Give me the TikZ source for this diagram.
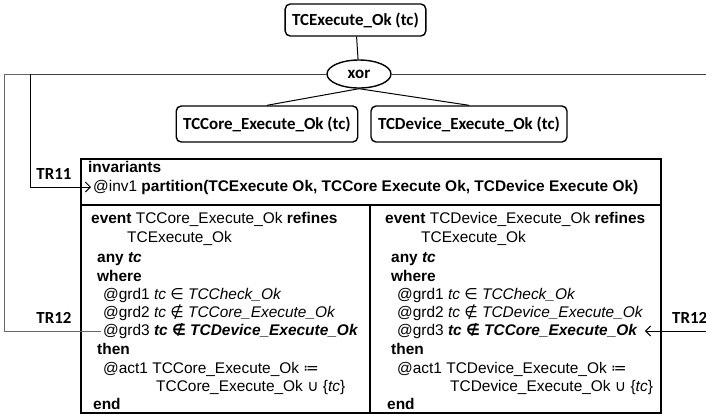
\documentclass[tikz,border=0pt]{standalone}
\usepackage{fontspec}
\usepackage{amsmath}
\usepackage{amssymb}
\usepackage{mathtools}
\setmainfont{Liberation Sans}
\newfontfamily\boxfont{Carlito}
\newfontfamily\symfont{DejaVu Sans}
\usetikzlibrary{shapes.geometric,arrows.meta}

\begin{document}
\begin{tikzpicture}[x=1bp, y=-1bp,
  >={Straight Barb[length=5bp,width=10bp]},
  evbox/.style={draw, line width=1.4bp, rounded corners=5bp, minimum height=32bp, inner xsep=7bp,
    font=\boxfont\bfseries\fontsize{17}{20}\selectfont},
  xorbox/.style={draw, ellipse, line width=1.4bp, minimum width=64bp, minimum height=28bp,
    font=\boxfont\bfseries\fontsize{17}{20}\selectfont},
  trlabel/.style={inner sep=0pt, font=\boxfont\bfseries\fontsize{17}{20}\selectfont},
  code/.style={anchor=west, inner sep=0pt, text height=11bp, text depth=3bp,
    font=\fontsize{15.5}{18}\selectfont},
  frame/.style={line width=2bp},
  link/.style={line width=1bp}]
\useasboundingbox (0,0) rectangle (706,416);

% feature tree
\node[evbox] (exec) at (355.5,20) {TCExecute\_Ok (tc)};
\node[xorbox] (xor) at (359,74) {xor};
\node[evbox, minimum height=36bp] (core) at (267,124) {TCCore\_Execute\_Ok (tc)};
\node[evbox, minimum height=36bp] (dev) at (469,124) {TCDevice\_Execute\_Ok (tc)};
\draw[link] (exec) -- (xor);
\draw[link] (xor.south) -- (core.north);
\draw[link] (xor.south) -- (dev.north);

% machine frame
\draw[frame] (81,159) rectangle (661,413);
\draw[frame] (81,205) -- (661,205);
\draw[frame] (370,205) -- (370,413);

\node[code] (inv) at (88,168) {\textbf{invariants}};
\node[code] (inv1) at (93,187) {@inv1 \textbf{partition(TCExecute Ok, TCCore Execute Ok, TCDevice Execute Ok)}};

% the two events
\foreach \c/\x/\mine/\other in {L/91/Core/Device, R/385/Device/Core} {
  \node[code] (ev\c) at (\x,219) {\textbf{event} TC\mine\_Execute\_Ok \textbf{refines}};
  \node[code] (abs\c) at (\x+36,238) {TCExecute\_Ok};
  \node[code] (any\c) at (\x+6,258) {\textbf{any \textit{tc}}};
  \node[code] (where\c) at (\x+6,277) {\textbf{where}};
  \node[code] (grdA\c) at (\x+12,295) {@grd1 \textit{tc {\symfont\upshape∈} TCCheck\_Ok}};
  \node[code] (grdB\c) at (\x+12,313) {@grd2 \textit{tc {\symfont\upshape∉} TC\mine\_Execute\_Ok}};
  \node[code] (grdC\c) at (\x+12,331) {@grd3 \textbf{\textit{tc {\symfont\bfseries\upshape∉} TC\other\_Execute\_Ok}}};
  \node[code] (then\c) at (\x+6,350) {\textbf{then}};
  \node[code] (act\c) at (\x+12,369) {@act1 TC\mine\_Execute\_Ok {\symfont≔}};
  \node[code] (actB\c) at (\x+65,387) {TC\mine\_Execute\_Ok {\symfont∪} \{\textit{tc}\}};
  \node[code] (end\c) at (\x+2,405) {\textbf{end}};
}

% trace links
\coordinate (tlo) at (4,74);
\coordinate (tli) at (30,74);
\node[trlabel] (trA) at (54,174) {TR11};
\node[trlabel] (trB) at (54,318) {TR12};
\node[trlabel, anchor=west] (trC) at (672,318) {TR12};
\draw[link, black!75] (xor.west) -- (tli);
\draw[link, black!60] (tli) -- (tlo) |- ([xshift=-2bp]grdCL.west);
\draw[link, ->] (tli) |- ([xshift=-2bp]inv1.west);
\draw[link, black!75] (xor.east) -- (706,74);
\draw[link, <-] ([xshift=7bp]grdCR.east) -- (706,331);
\end{tikzpicture}
\end{document}
